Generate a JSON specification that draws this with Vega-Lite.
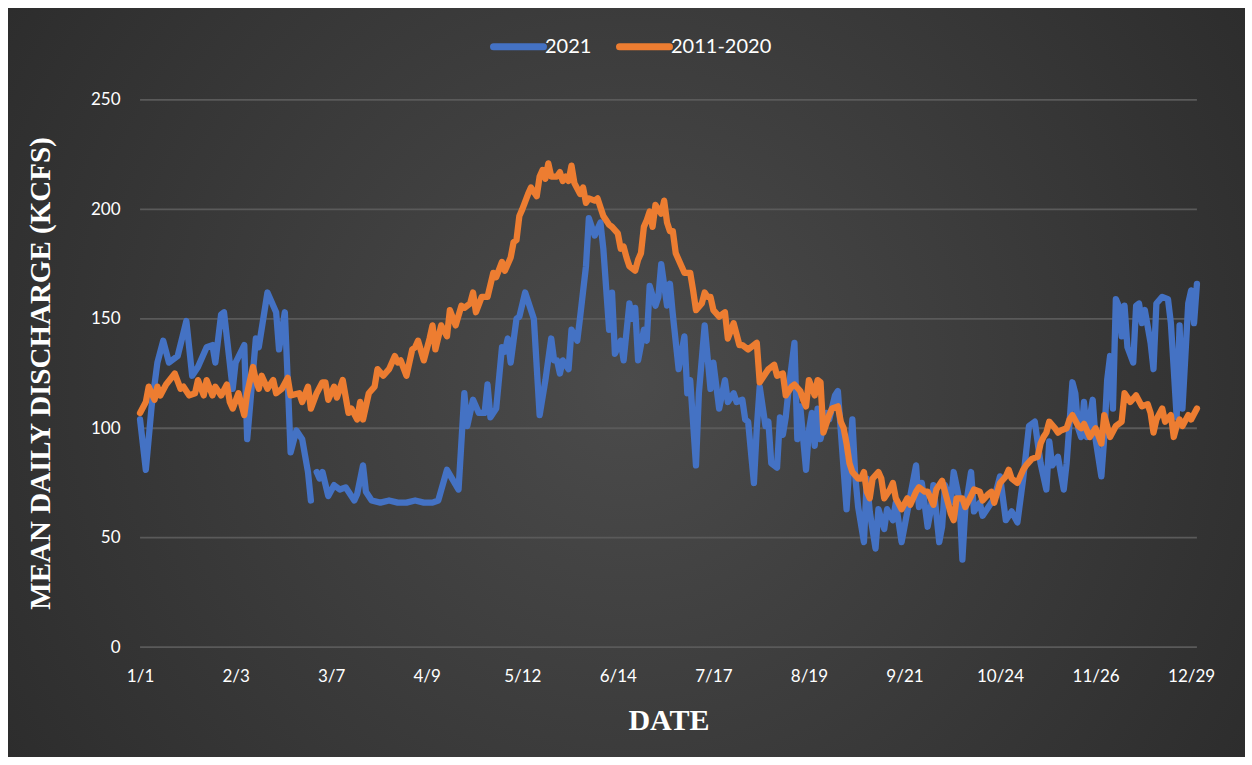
{
"$schema":"https://vega.github.io/schema/vega-lite/v6.json",
"width":1237,"height":749,
"autosize":{"type":"none"},
"padding":{"left":8,"top":8,"right":7,"bottom":8},
"background":"white",
"view":{"stroke":null,"fill":{"gradient":"radial","x1":0.5,"y1":0.5,"r1":0,"x2":0.5,"y2":0.5,"r2":0.72,"stops":[{"offset":0,"color":"#4b4b4b"},{"offset":1,"color":"#262626"}]}},
"datasets":{
"grid":[{"d":0,"d2":365,"v":0},{"d":0,"d2":365,"v":50},{"d":0,"d2":365,"v":100},{"d":0,"d2":365,"v":150},{"d":0,"d2":365,"v":200},{"d":0,"d2":365,"v":250}],
"a":[{"d":0,"v":104},{"d":2,"v":81},{"d":4,"v":110},{"d":6,"v":130},{"d":8,"v":140},{"d":10,"v":130},{"d":13,"v":133},{"d":16,"v":149},{"d":18,"v":124},{"d":20,"v":128},{"d":23,"v":137},{"d":25,"v":138},{"d":26,"v":130},{"d":28,"v":152},{"d":29,"v":153},{"d":32,"v":118},{"d":33,"v":130},{"d":36,"v":138},{"d":37,"v":95},{"d":40,"v":141},{"d":41,"v":137},{"d":44,"v":162},{"d":47,"v":153},{"d":48,"v":136},{"d":50,"v":153},{"d":51,"v":122},{"d":52,"v":89},{"d":54,"v":99},{"d":56,"v":95},{"d":58,"v":80},{"d":59,"v":67},{"d":60,"v":null},{"d":61,"v":80},{"d":62,"v":77},{"d":63,"v":80},{"d":65,"v":69},{"d":67,"v":74},{"d":69,"v":72},{"d":71,"v":73},{"d":74,"v":67},{"d":75,"v":70},{"d":77,"v":83},{"d":78,"v":71},{"d":80,"v":67},{"d":83,"v":66},{"d":86,"v":67},{"d":89,"v":66},{"d":92,"v":66},{"d":95,"v":67},{"d":98,"v":66},{"d":101,"v":66},{"d":103,"v":67},{"d":106,"v":81},{"d":110,"v":72},{"d":112,"v":116},{"d":113,"v":101},{"d":115,"v":113},{"d":117,"v":107},{"d":119,"v":107},{"d":120,"v":120},{"d":121,"v":105},{"d":123,"v":109},{"d":125,"v":137},{"d":126,"v":135},{"d":127,"v":141},{"d":128,"v":130},{"d":129,"v":140},{"d":130,"v":150},{"d":131,"v":151},{"d":133,"v":162},{"d":135,"v":154},{"d":136,"v":150},{"d":138,"v":106},{"d":140,"v":122},{"d":142,"v":141},{"d":143,"v":131},{"d":144,"v":131},{"d":145,"v":125},{"d":146,"v":131},{"d":148,"v":127},{"d":149,"v":145},{"d":151,"v":140},{"d":152,"v":151},{"d":154,"v":174},{"d":155,"v":196},{"d":157,"v":188},{"d":159,"v":194},{"d":160,"v":182},{"d":162,"v":145},{"d":163,"v":162},{"d":164,"v":134},{"d":166,"v":140},{"d":167,"v":131},{"d":169,"v":157},{"d":170,"v":150},{"d":171,"v":155},{"d":172,"v":131},{"d":174,"v":145},{"d":175,"v":140},{"d":176,"v":165},{"d":178,"v":156},{"d":179,"v":160},{"d":180,"v":175},{"d":182,"v":156},{"d":183,"v":166},{"d":184,"v":152},{"d":186,"v":127},{"d":188,"v":142},{"d":189,"v":116},{"d":190,"v":122},{"d":192,"v":83},{"d":193,"v":116},{"d":195,"v":147},{"d":197,"v":118},{"d":198,"v":130},{"d":200,"v":109},{"d":202,"v":122},{"d":203,"v":112},{"d":205,"v":116},{"d":206,"v":112},{"d":208,"v":113},{"d":209,"v":104},{"d":210,"v":103},{"d":212,"v":75},{"d":213,"v":100},{"d":214,"v":119},{"d":216,"v":101},{"d":217,"v":103},{"d":218,"v":84},{"d":220,"v":82},{"d":221,"v":105},{"d":222,"v":97},{"d":223,"v":105},{"d":224,"v":118},{"d":226,"v":139},{"d":227,"v":95},{"d":228,"v":110},{"d":230,"v":81},{"d":231,"v":99},{"d":232,"v":107},{"d":233,"v":92},{"d":234,"v":109},{"d":235,"v":95},{"d":237,"v":107},{"d":238,"v":104},{"d":240,"v":115},{"d":241,"v":117},{"d":242,"v":99},{"d":244,"v":63},{"d":245,"v":84},{"d":246,"v":104},{"d":247,"v":78},{"d":248,"v":64},{"d":250,"v":48},{"d":251,"v":77},{"d":252,"v":62},{"d":254,"v":45},{"d":255,"v":63},{"d":257,"v":54},{"d":258,"v":63},{"d":260,"v":58},{"d":261,"v":66},{"d":263,"v":48},{"d":265,"v":62},{"d":268,"v":83},{"d":269,"v":64},{"d":270,"v":75},{"d":272,"v":55},{"d":273,"v":62},{"d":274,"v":74},{"d":276,"v":48},{"d":277,"v":55},{"d":278,"v":74},{"d":280,"v":66},{"d":281,"v":80},{"d":283,"v":67},{"d":284,"v":40},{"d":285,"v":63},{"d":287,"v":80},{"d":288,"v":62},{"d":290,"v":66},{"d":291,"v":60},{"d":293,"v":64},{"d":295,"v":68},{"d":297,"v":78},{"d":299,"v":58},{"d":301,"v":62},{"d":303,"v":57},{"d":305,"v":77},{"d":307,"v":101},{"d":309,"v":103},{"d":311,"v":84},{"d":313,"v":72},{"d":314,"v":94},{"d":315,"v":83},{"d":317,"v":87},{"d":319,"v":72},{"d":320,"v":84},{"d":322,"v":121},{"d":323,"v":116},{"d":324,"v":100},{"d":325,"v":96},{"d":326,"v":112},{"d":327,"v":96},{"d":329,"v":113},{"d":330,"v":95},{"d":332,"v":78},{"d":333,"v":96},{"d":334,"v":122},{"d":335,"v":133},{"d":336,"v":109},{"d":337,"v":159},{"d":338,"v":156},{"d":339,"v":142},{"d":340,"v":156},{"d":341,"v":137},{"d":343,"v":130},{"d":344,"v":156},{"d":345,"v":157},{"d":346,"v":148},{"d":347,"v":154},{"d":349,"v":139},{"d":350,"v":127},{"d":351,"v":157},{"d":353,"v":160},{"d":355,"v":159},{"d":356,"v":148},{"d":357,"v":127},{"d":358,"v":105},{"d":359,"v":147},{"d":360,"v":109},{"d":362,"v":157},{"d":363,"v":163},{"d":364,"v":148},{"d":365,"v":166}],
"b":[{"d":0,"v":107},{"d":2,"v":112},{"d":3,"v":119},{"d":5,"v":113},{"d":6,"v":119},{"d":7,"v":115},{"d":9,"v":120},{"d":12,"v":125},{"d":14,"v":118},{"d":15,"v":119},{"d":17,"v":115},{"d":19,"v":116},{"d":20,"v":122},{"d":22,"v":115},{"d":23,"v":122},{"d":25,"v":115},{"d":26,"v":119},{"d":28,"v":115},{"d":30,"v":120},{"d":31,"v":112},{"d":32,"v":109},{"d":34,"v":116},{"d":36,"v":106},{"d":37,"v":116},{"d":39,"v":128},{"d":40,"v":122},{"d":41,"v":118},{"d":42,"v":124},{"d":44,"v":118},{"d":46,"v":122},{"d":47,"v":116},{"d":49,"v":118},{"d":51,"v":123},{"d":52,"v":115},{"d":55,"v":116},{"d":56,"v":112},{"d":58,"v":119},{"d":59,"v":109},{"d":61,"v":116},{"d":63,"v":121},{"d":64,"v":121},{"d":65,"v":113},{"d":67,"v":119},{"d":68,"v":114},{"d":70,"v":122},{"d":72,"v":107},{"d":73,"v":109},{"d":75,"v":104},{"d":76,"v":112},{"d":77,"v":104},{"d":79,"v":116},{"d":81,"v":119},{"d":82,"v":127},{"d":84,"v":124},{"d":86,"v":127},{"d":88,"v":133},{"d":89,"v":130},{"d":90,"v":131},{"d":92,"v":124},{"d":94,"v":136},{"d":95,"v":137},{"d":96,"v":140},{"d":98,"v":131},{"d":100,"v":141},{"d":101,"v":147},{"d":102,"v":136},{"d":104,"v":147},{"d":106,"v":142},{"d":107,"v":154},{"d":109,"v":147},{"d":111,"v":156},{"d":112,"v":155},{"d":114,"v":157},{"d":115,"v":162},{"d":116,"v":153},{"d":118,"v":160},{"d":120,"v":160},{"d":122,"v":171},{"d":123,"v":169},{"d":125,"v":176},{"d":126,"v":172},{"d":128,"v":178},{"d":129,"v":185},{"d":130,"v":186},{"d":131,"v":197},{"d":132,"v":200},{"d":134,"v":207},{"d":135,"v":210},{"d":137,"v":206},{"d":138,"v":215},{"d":139,"v":218},{"d":140,"v":214},{"d":141,"v":221},{"d":142,"v":215},{"d":144,"v":215},{"d":145,"v":217},{"d":146,"v":213},{"d":147,"v":215},{"d":148,"v":213},{"d":149,"v":220},{"d":150,"v":212},{"d":152,"v":207},{"d":153,"v":210},{"d":154,"v":203},{"d":155,"v":205},{"d":157,"v":204},{"d":158,"v":205},{"d":159,"v":201},{"d":160,"v":197},{"d":162,"v":193},{"d":163,"v":192},{"d":165,"v":189},{"d":166,"v":182},{"d":167,"v":183},{"d":168,"v":178},{"d":169,"v":174},{"d":171,"v":172},{"d":172,"v":177},{"d":173,"v":180},{"d":174,"v":192},{"d":175,"v":195},{"d":176,"v":199},{"d":177,"v":192},{"d":178,"v":202},{"d":180,"v":198},{"d":181,"v":204},{"d":182,"v":194},{"d":183,"v":190},{"d":184,"v":190},{"d":185,"v":180},{"d":187,"v":174},{"d":188,"v":171},{"d":190,"v":171},{"d":191,"v":163},{"d":192,"v":154},{"d":194,"v":157},{"d":195,"v":162},{"d":196,"v":160},{"d":197,"v":160},{"d":198,"v":154},{"d":200,"v":151},{"d":202,"v":153},{"d":203,"v":141},{"d":205,"v":148},{"d":207,"v":138},{"d":208,"v":138},{"d":210,"v":136},{"d":211,"v":137},{"d":213,"v":139},{"d":214,"v":121},{"d":216,"v":125},{"d":217,"v":127},{"d":219,"v":129},{"d":220,"v":124},{"d":222,"v":125},{"d":223,"v":115},{"d":225,"v":119},{"d":226,"v":120},{"d":228,"v":117},{"d":229,"v":113},{"d":230,"v":110},{"d":231,"v":122},{"d":233,"v":115},{"d":234,"v":122},{"d":235,"v":121},{"d":236,"v":98},{"d":238,"v":106},{"d":239,"v":109},{"d":241,"v":110},{"d":242,"v":103},{"d":243,"v":100},{"d":244,"v":93},{"d":245,"v":84},{"d":246,"v":80},{"d":248,"v":77},{"d":249,"v":77},{"d":250,"v":80},{"d":251,"v":71},{"d":252,"v":68},{"d":253,"v":77},{"d":255,"v":80},{"d":256,"v":77},{"d":257,"v":68},{"d":259,"v":72},{"d":260,"v":75},{"d":261,"v":68},{"d":263,"v":63},{"d":265,"v":68},{"d":266,"v":65},{"d":268,"v":71},{"d":269,"v":73},{"d":271,"v":71},{"d":272,"v":71},{"d":273,"v":68},{"d":274,"v":65},{"d":275,"v":72},{"d":277,"v":76},{"d":278,"v":71},{"d":280,"v":61},{"d":281,"v":58},{"d":282,"v":68},{"d":284,"v":68},{"d":285,"v":64},{"d":287,"v":69},{"d":288,"v":72},{"d":290,"v":71},{"d":291,"v":67},{"d":293,"v":70},{"d":294,"v":71},{"d":295,"v":66},{"d":297,"v":75},{"d":299,"v":78},{"d":300,"v":81},{"d":301,"v":77},{"d":303,"v":75},{"d":305,"v":81},{"d":306,"v":83},{"d":308,"v":86},{"d":310,"v":87},{"d":311,"v":93},{"d":312,"v":96},{"d":313,"v":98},{"d":314,"v":103},{"d":316,"v":100},{"d":317,"v":98},{"d":318,"v":99},{"d":320,"v":100},{"d":321,"v":104},{"d":322,"v":106},{"d":324,"v":101},{"d":325,"v":100},{"d":326,"v":102},{"d":328,"v":96},{"d":330,"v":100},{"d":332,"v":93},{"d":333,"v":106},{"d":335,"v":96},{"d":337,"v":101},{"d":339,"v":103},{"d":340,"v":116},{"d":341,"v":114},{"d":342,"v":112},{"d":344,"v":115},{"d":346,"v":110},{"d":348,"v":111},{"d":349,"v":107},{"d":350,"v":98},{"d":351,"v":104},{"d":353,"v":109},{"d":354,"v":103},{"d":356,"v":106},{"d":357,"v":96},{"d":358,"v":101},{"d":359,"v":104},{"d":360,"v":101},{"d":362,"v":106},{"d":363,"v":104},{"d":365,"v":109}]
},
"encoding":{
"x":{"field":"d","type":"quantitative","scale":{"domain":[-45.6,381.6],"nice":false,"zero":false},
"axis":{"values":[0,33,66,99,132,165,198,231,264,297,330,363],"labelExpr":"timeFormat(datetime(2020,0,1+datum.value),'%-m/%-d')","grid":false,"domain":false,"ticks":false,"offset":-93,"labelPadding":4,"labelFont":"Lato","labelFontSize":17,"labelColor":"white","labelFlush":false,"labelOverlap":false,"title":"DATE","titleFont":"Liberation Serif","titleFontSize":30,"titleFontWeight":"bold","titleColor":"white","titleX":660.5,"titleY":56,"titleBaseline":"middle","titleAlign":"center"}},
"y":{"field":"v","type":"quantitative","scale":{"domain":[-50.2,292],"nice":false,"zero":false},
"axis":{"values":[0,50,100,150,200,250],"grid":false,"domain":false,"ticks":false,"offset":-116,"labelPadding":4,"labelFont":"Lato","labelFontSize":17,"labelColor":"white","title":"MEAN DAILY DISCHARGE (KCFS)","titleFont":"Liberation Serif","titleFontSize":29,"titleFontWeight":"bold","titleColor":"white","titleX":-84,"titleY":365,"titleAngle":270,"titleBaseline":"middle","titleAlign":"center"}}
},
"layer":[
{"data":{"name":"grid"},"mark":{"type":"rule","color":"#5a5a5a","strokeWidth":1.8},"encoding":{"x2":{"field":"d2"}}},
{"data":{"name":"a"},"mark":{"type":"line","strokeWidth":6.3,"strokeJoin":"round","strokeCap":"round"},
"encoding":{"color":{"datum":"2021","type":"nominal","scale":{"domain":["2021","2011-2020"],"range":["#4472C4","#ED7D31"]},
"legend":{"title":null,"orient":"none","legendX":482,"legendY":10,"direction":"horizontal","symbolType":"stroke","symbolSize":2500,"symbolStrokeWidth":7,"labelFontSize":20,"labelColor":"white","labelFont":"Lato","labelOffset":-2,"columnPadding":13,"encode":{"symbols":{"update":{"strokeCap":{"value":"round"}}}}}}}},
{"data":{"name":"b"},"mark":{"type":"line","strokeWidth":6.3,"strokeJoin":"round","strokeCap":"round"},
"encoding":{"color":{"datum":"2011-2020","type":"nominal"}}}
]
}
